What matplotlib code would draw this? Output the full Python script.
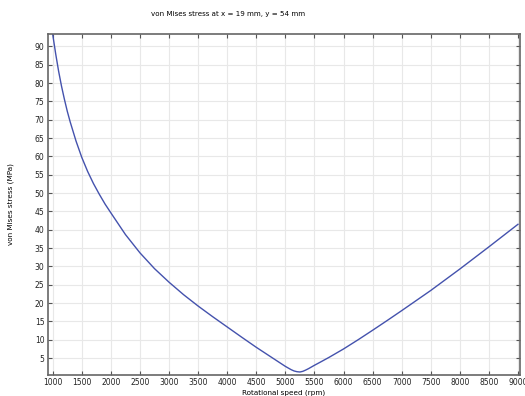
import matplotlib

matplotlib.use("Agg")
import matplotlib.pyplot as plt

# values
rpm = [1000, 1050, 1100, 1150, 1200, 1250, 1300, 1400, 1500, 1600,
       1700, 1800, 1900, 2000, 2250, 2500, 2750, 3000, 3250, 3500,
       3750, 4000, 4250, 4500, 4750, 5000, 5100, 5150, 5200, 5250,
       5300, 5350, 5400, 5450, 5500, 5600, 5750, 6000, 6250, 6500,
       6750, 7000, 7500, 8000, 8500, 9000]
stress = [93.2, 88.0, 83.3, 79.2, 75.6, 72.3, 69.4, 64.2, 59.7, 55.9,
          52.6, 49.7, 47.0, 44.6, 38.7, 33.7, 29.4, 25.7, 22.3, 19.2,
          16.3, 13.5, 10.7, 7.95, 5.35, 2.75, 1.85, 1.5, 1.3, 1.22,
          1.4, 1.75, 2.15, 2.6, 3.05, 3.9, 5.2, 7.5, 10.0, 12.6,
          15.25, 17.95, 23.45, 29.3, 35.35, 41.5]

xticks = list(range(1000, 9001, 500))
yticks = list(range(5, 91, 5))

plt.rcParams["font.family"] = "DejaVu Sans"

fig = plt.figure(figsize=(5.25, 3.96), dpi=100)
ax = fig.add_axes([48 / 525, 1 - 375 / 396, 472 / 525, 341 / 396])

ax.plot(rpm, stress, color="#4452ad", linewidth=1.0)

ax.set_xlim(918, 9035)
ax.set_ylim(0.4, 93.4)
ax.set_xticks(xticks)
ax.set_yticks(yticks)
ax.grid(True, color="#e8e8e8", linewidth=0.8)
ax.set_axisbelow(True)
ax.tick_params(direction="in", length=3, width=0.8, color="#555555",
               labelsize=5.5, labelcolor="#222222", top=True, right=True, pad=2.5)

for s in ax.spines.values():
    s.set_color("#666666")
    s.set_linewidth(1.2)

ax.set_xlabel("Rotational speed (rpm)", fontsize=5.2, labelpad=1.5)
ax.set_ylabel("von Mises stress (MPa)", fontsize=5.2, labelpad=15)

fig.text(228 / 525, 1 - 14 / 396, "von Mises stress at x = 19 mm, y = 54 mm",
         fontsize=5.1, ha="center", va="center")

fig.savefig("out.png", dpi=100)
